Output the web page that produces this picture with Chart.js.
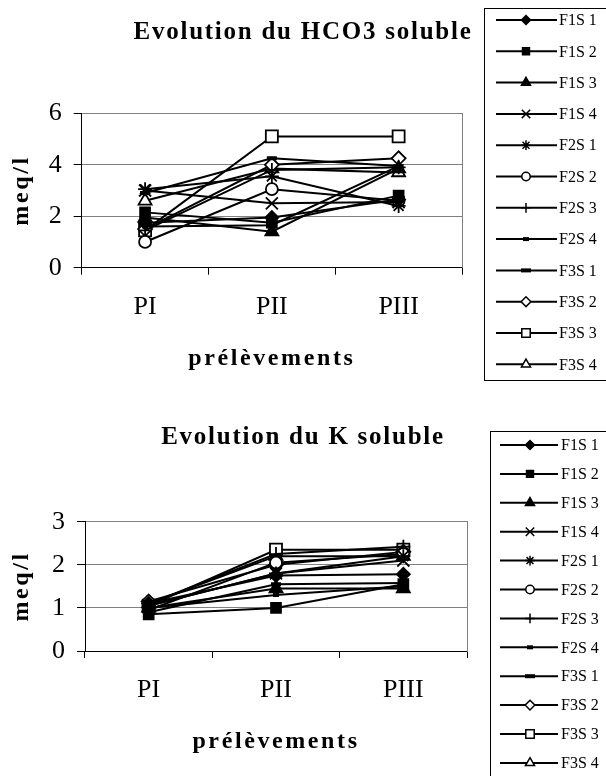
<!DOCTYPE html>
<html><head><meta charset="utf-8">
<script src="https://cdn.jsdelivr.net/npm/chart.js@4/dist/chart.umd.min.js"></script>
<style>
html,body{margin:0;padding:0;background:#fff;overflow:hidden;}
canvas{position:absolute;left:0;display:block;}
#c1{top:0;}
#c2{top:390px;}
</style></head><body>
<canvas id="c1" width="606" height="390"></canvas>
<canvas id="c2" width="606" height="386"></canvas>
<script>
// ---- data ----
const categories = ['PI', 'PII', 'PIII'];
const seriesNames = ['F1S 1','F1S 2','F1S 3','F1S 4','F2S 1','F2S 2','F2S 3','F2S 4','F3S 1','F3S 2','F3S 3','F3S 4'];
// HCO3 soluble (meq/l), one value per series, per sampling
const hco3PI   = [1.75, 2.15, 1.95, 3.0, 3.05, 1.0, 1.45, 1.6, 2.9, 1.5, 1.45, 2.6];
const hco3PII  = [1.95, 1.75, 1.4, 2.5, 3.55, 3.05, 3.8, 1.65, 4.25, 4.0, 5.1, 3.85];
const hco3PIII = [2.65, 2.8, 3.85, 2.55, 2.4, 2.6, 3.9, 3.95, 3.95, 4.25, 5.1, 3.7];
// K soluble (meq/l)
const kPI   = [1.1, 0.85, 1.0, 1.05, 1.05, 0.95, 1.1, 1.0, 0.9, 1.15, 1.05, 1.1];
const kPII  = [1.75, 1.0, 1.45, 1.8, 1.8, 2.05, 2.25, 1.3, 1.55, 2.0, 2.35, 2.2];
const kPIII = [1.78, 1.55, 1.45, 2.1, 2.2, 2.25, 2.42, 1.5, 1.58, 2.3, 2.35, 2.2];
const hco3Axis = {min: 0, max: 6, step: 2};
const kAxis = {min: 0, max: 3, step: 1};

// ---- marker styles (per series) ----
const markerStyles = [
  {style: 'rectRot',  fill: true,  r: 6.5},
  {style: 'rect',     fill: true,  r: 7},
  {style: 'triangle', fill: true,  r: 7.5},
  {style: 'crossRot', fill: false, r: 8.5},
  {style: 'star',     fill: false, r: 7},
  {style: 'circle',   fill: false, r: 6},
  {style: 'cross',    fill: false, r: 7},
  {style: 'line',     fill: true,  r: 3, w: 4},
  {style: 'line',     fill: true,  r: 5, w: 4},
  {style: 'rectRot',  fill: false, r: 7},
  {style: 'rect',     fill: false, r: 8.5},
  {style: 'triangle', fill: false, r: 7.5}
];

const SERIF = "'Times New Roman', 'Liberation Serif', serif";

function buildDatasets(v1, v2, v3) {
  return seriesNames.map((name, i) => {
    const m = markerStyles[i];
    return {
      label: name,
      data: [v1[i], v2[i], v3[i]],
      borderColor: '#000',
      borderWidth: 2,
      tension: 0,
      pointStyle: m.style,
      pointRadius: m.r,
      pointHoverRadius: m.r,
      pointBackgroundColor: m.fill ? '#000' : '#fff',
      pointBorderColor: '#000',
      pointBorderWidth: m.w || 1.8,
      _legendR: m.style === 'line' ? m.r : m.r * 0.7
    };
  });
}

// letter-spaced titles (Excel-like spaced text)
const spacingPlugin = {
  id: 'spacing',
  beforeDraw(chart, args, opts) {
    const tb = chart.titleBlock;
    if (tb && !tb._wrapped) {
      const orig = tb.draw.bind(tb);
      tb.draw = function(a) { const c = chart.ctx; c.save(); c.letterSpacing = opts.title + 'px'; orig(a); c.restore(); };
      tb._wrapped = true;
    }
    for (const s of Object.values(chart.scales)) {
      if (!s._wrapped) {
        const o = s.drawTitle.bind(s);
        s.drawTitle = function() { const c = chart.ctx; c.save(); c.letterSpacing = opts.axis + 'px'; o(); c.restore(); };
        s._wrapped = true;
      }
    }
  }
};

// Excel-style boxed legend: line + marker + label for each dataset
const boxLegend = {
  id: 'boxLegend',
  afterDraw(chart, args, o) {
    const ctx = chart.ctx;
    ctx.save();
    ctx.strokeStyle = '#000';
    ctx.lineWidth = 1;
    ctx.strokeRect(o.left + 0.5, o.top + 0.5, o.width, o.height);
    chart.data.datasets.forEach((ds, i) => {
      const y = o.firstY + i * o.step;
      ctx.beginPath();
      ctx.lineWidth = 2;
      ctx.strokeStyle = '#000';
      ctx.moveTo(o.lineX0, y);
      ctx.lineTo(o.lineX1, y);
      ctx.stroke();
      ctx.fillStyle = ds.pointBackgroundColor;
      ctx.strokeStyle = '#000';
      ctx.lineWidth = ds.pointStyle === 'line' ? ds.pointBorderWidth : 1.5;
      Chart.helpers.drawPoint(ctx, {pointStyle: ds.pointStyle, radius: ds._legendR, rotation: 0, borderWidth: ctx.lineWidth}, o.markerX, y);
      ctx.fillStyle = '#000';
      ctx.font = '16px ' + SERIF;
      ctx.textAlign = 'left';
      ctx.textBaseline = 'middle';
      ctx.fillText(ds.label, o.textX, y + 1);
    });
    ctx.restore();
  }
};

function makeChart(id, title, v1, v2, v3, axis, L) {
  return new Chart(document.getElementById(id), {
    type: 'line',
    data: {labels: categories, datasets: buildDatasets(v1, v2, v3)},
    plugins: [spacingPlugin, boxLegend],
    options: {
      responsive: false,
      animation: false,
      devicePixelRatio: 1,
      layout: {padding: 0},
      events: [],
      plugins: {
        legend: {display: false},
        tooltip: {enabled: false},
        title: {
          display: true, text: title, color: '#000',
          font: {family: SERIF, size: 25, weight: 'bold', lineHeight: 1.2},
          padding: {top: L.titleTop, bottom: L.titleBottom}
        },
        spacing: {title: 1.75, axis: 2.6},
        boxLegend: L.legend
      },
      scales: {
        x: {
          type: 'category', offset: true,
          grid: {drawOnChartArea: false, offset: true, drawTicks: true, tickLength: 7, tickColor: '#000', color: '#000'},
          border: {color: '#000', width: 1},
          ticks: {color: '#000', font: {family: SERIF, size: 26}, padding: 17, maxRotation: 0, autoSkip: false},
          title: {display: true, text: 'prélèvements', color: '#000', font: {family: SERIF, size: 24, weight: 'bold', lineHeight: 1.2}, padding: {top: 0, bottom: L.xTitlePad}},
          afterFit: s => { s.height = L.xHeight; }
        },
        y: {
          position: 'left', min: axis.min, max: axis.max,
          grid: {color: '#808080', lineWidth: 1, tickLength: 8, tickColor: '#000'},
          border: {color: '#000', width: 1},
          ticks: {stepSize: axis.step, color: '#000', font: {family: SERIF, size: 26}, padding: 12},
          title: {display: true, text: 'meq/l', color: '#000', font: {family: SERIF, size: 24, weight: 'bold', lineHeight: 1.2}, padding: {top: L.yTitlePad, bottom: 0}},
          afterFit: s => { s.width = L.yWidth; }
        },
        y2: {
          position: 'right', display: true,
          grid: {display: false, drawTicks: false},
          border: {color: '#808080', width: 1},
          ticks: {display: false},
          afterFit: s => { s.width = L.rightWidth; }
        }
      }
    }
  });
}

makeChart('c1', 'Evolution du HCO3 soluble', hco3PI, hco3PII, hco3PIII, hco3Axis, {
  titleTop: 18, titleBottom: 65.3,
  xHeight: 122.3, xTitlePad: 17.2,
  yWidth: 81.7, yTitlePad: 7.6,
  rightWidth: 144,
  legend: {left: 484, top: 8, width: 130, height: 372, firstY: 20, step: 31.3, lineX0: 496, lineX1: 557, markerX: 526, textX: 559}
});

makeChart('c2', 'Evolution du K soluble', kPI, kPII, kPIII, kAxis, {
  titleTop: 33, titleBottom: 68.7,
  xHeight: 125, xTitlePad: 19.9,
  yWidth: 85, yTitlePad: 7.6,
  rightWidth: 139,
  legend: {left: 490, top: 41, width: 130, height: 400, firstY: 55, step: 28.9, lineX0: 500, lineX1: 558, markerX: 530, textX: 561}
});
</script>
</body></html>
